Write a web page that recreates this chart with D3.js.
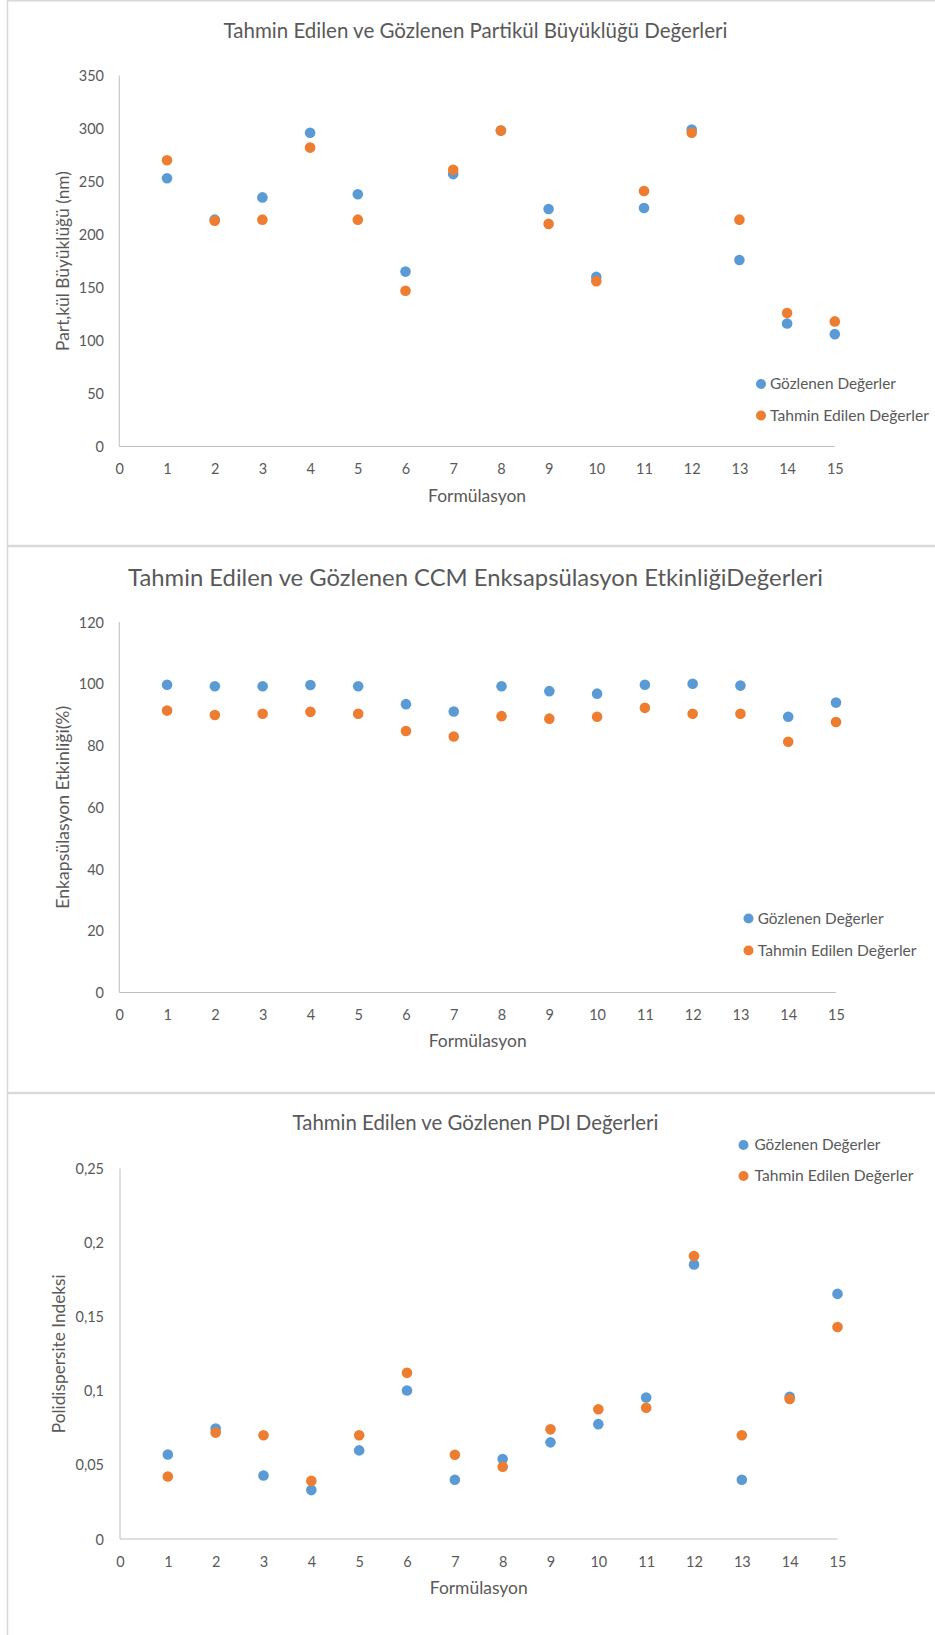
<!DOCTYPE html>
<html>
<head>
<meta charset="utf-8">
<script src="https://cdn.jsdelivr.net/npm/d3@7"></script>
<style>
  html, body { margin: 0; padding: 0; background: #fff; }
  svg { display: block; }
  text { font-family: Lato, "Open Sans", sans-serif; fill: #595959; }
</style>
</head>
<body>
<svg id="chart" width="935" height="1635"></svg>
<script>
// ---------------- DATA ----------------
const formulations = [1, 2, 3, 4, 5, 6, 7, 8, 9, 10, 11, 12, 13, 14, 15];
const xTicks = [0, 1, 2, 3, 4, 5, 6, 7, 8, 9, 10, 11, 12, 13, 14, 15];
const seriesNames = ["Gözlenen Değerler", "Tahmin Edilen Değerler"];

// Chart 1 – particle size (nm)
const title1 = "Tahmin Edilen ve Gözlenen Partikül Büyüklüğü Değerleri";
const yTitle1 = "Part,kül Büyüklüğü (nm)";
const yTicks1 = [0, 50, 100, 150, 200, 250, 300, 350];
const observed1 = [253, 214, 235, 296, 238, 165, 257, 298, 224, 160, 225, 299, 176, 116, 106];
const predicted1 = [270, 213, 214, 282, 214, 147, 261, 298, 210, 156, 241, 296, 214, 126, 118];

// Chart 2 – encapsulation efficiency (%)
const title2 = "Tahmin Edilen ve Gözlenen CCM Enksapsülasyon EtkinliğiDeğerleri";
const yTitle2 = "Enkapsülasyon Etkinliği(%)";
const yTicks2 = [0, 20, 40, 60, 80, 100, 120];
const observed2 = [99.7, 99.2, 99.2, 99.6, 99.2, 93.4, 91.0, 99.2, 97.6, 96.8, 99.7, 100.0, 99.4, 89.3, 93.9];
const predicted2 = [91.3, 89.9, 90.3, 90.9, 90.3, 84.7, 82.9, 89.5, 88.7, 89.3, 92.2, 90.3, 90.3, 81.2, 87.6];

// Chart 3 – PDI
const title3 = "Tahmin Edilen ve Gözlenen PDI Değerleri";
const yTitle3 = "Polidispersite Indeksi";
const yTicks3 = [0, 0.05, 0.1, 0.15, 0.2, 0.25];
const yTickLabels3 = ["0", "0,05", "0,1", "0,15", "0,2", "0,25"];
const observed3 = [0.057, 0.0745, 0.0428, 0.0330, 0.0598, 0.1002, 0.0400, 0.0540, 0.0652, 0.0775, 0.0955, 0.1853, 0.0400, 0.0960, 0.1654];
const predicted3 = [0.0422, 0.0718, 0.0700, 0.0392, 0.0700, 0.1121, 0.0568, 0.0488, 0.0740, 0.0876, 0.0886, 0.1910, 0.0700, 0.0945, 0.1431];

const xTitle = "Formülasyon";
const colors = ["#5B9BD5", "#ED7D31"];

// ---------------- LAYOUT ----------------
const svg = d3.select("#chart");

// panel frames
const frame = svg.append("g");
[[0.75, 545.5], [546.5, 1092.5], [1093.5, 1640]].forEach(([y0, y1]) => {
  frame.append("rect")
    .attr("x", 7.5).attr("y", y0)
    .attr("width", 1000).attr("height", y1 - y0)
    .attr("fill", "#fff")
    .attr("stroke", "#d9d9d9").attr("stroke-width", 1.5);
});

function fitText(sel, target) {
  const node = sel.node();
  const fs = parseFloat(sel.attr("font-size"));
  const w = node.getComputedTextLength();
  if (w > 0) sel.attr("font-size", fs * target / w);
}

const charts = [
  { title: title1, yTitle: yTitle1, yTicks: yTicks1, yLabels: yTicks1.map(String),
    yMax: 350, obs: observed1, pred: predicted1,
    x0: 119.3, x1: 834.8, yB: 446.5, yT: 75.5, titleY: 30.5, titleW: 504,
    xLabY: 468.5, xTitleY: 495.5, yTitleX: 63, yTitleW: 180,
    legX: 761, legY: [384, 415.5], legTX: 770 },
  { title: title2, yTitle: yTitle2, yTicks: yTicks2, yLabels: yTicks2.map(String),
    yMax: 120, obs: observed2, pred: predicted2,
    x0: 119.3, x1: 836, yB: 992.5, yT: 622, titleY: 577.5, titleW: 695,
    xLabY: 1014.5, xTitleY: 1040.5, yTitleX: 63, yTitleW: 203,
    legX: 748.5, legY: [918.5, 950.5], legTX: 757.7 },
  { title: title3, yTitle: yTitle3, yTicks: yTicks3, yLabels: yTickLabels3,
    yMax: 0.25, obs: observed3, pred: predicted3,
    x0: 120, x1: 837.5, yB: 1539, yT: 1168.5, titleY: 1122.5, titleW: 366,
    xLabY: 1561.5, xTitleY: 1588, yTitleX: 58.5, yTitleW: 159,
    legX: 743.5, legY: [1145, 1176], legTX: 754.5 }
];

charts.forEach(c => {
  const g = svg.append("g");
  const x = d3.scaleLinear().domain([0, 15]).range([c.x0, c.x1]);
  const y = d3.scaleLinear().domain([0, c.yMax]).range([c.yB, c.yT]);

  // axes
  const xAxis = g.append("g").attr("transform", `translate(0,${c.yB})`)
    .call(d3.axisBottom(x).tickValues(xTicks).tickSize(0).tickPadding(0).tickFormat(d3.format("d")));
  xAxis.select(".domain").attr("stroke", "#bfbfbf").attr("stroke-width", 1).attr("d", `M${c.x0},0H${c.x1}`);
  xAxis.selectAll(".tick text")
    .attr("y", c.xLabY - c.yB).attr("dy", "0.35em")
    .attr("font-size", 14.5).style("font-family", "Lato").attr("fill", "#595959");

  const yAxis = g.append("g").attr("transform", `translate(${c.x0},0)`)
    .call(d3.axisLeft(y).tickValues(c.yTicks).tickSize(0).tickPadding(0)
      .tickFormat((d, i) => c.yLabels[i]));
  yAxis.select(".domain").attr("stroke", "#bfbfbf").attr("stroke-width", 1).attr("d", `M0,${c.yB}V${c.yT}`);
  yAxis.selectAll(".tick text")
    .attr("x", 104 - c.x0).attr("dy", "0.35em")
    .attr("font-size", 14.5).style("font-family", "Lato").attr("fill", "#595959");

  // title
  const t = g.append("text").attr("x", 475.5).attr("y", c.titleY).attr("dy", "0.35em")
    .attr("text-anchor", "middle").attr("font-size", 20).text(c.title);
  fitText(t, c.titleW);

  // x title
  const xt = g.append("text").attr("x", (c.x0 + c.x1) / 2).attr("y", c.xTitleY).attr("dy", "0.35em")
    .attr("text-anchor", "middle").attr("font-size", 16).text(xTitle);
  fitText(xt, 98);

  // y title
  const yc = (c.yB + c.yT) / 2;
  const yt = g.append("text")
    .attr("transform", `translate(${c.yTitleX},${yc}) rotate(-90)`)
    .attr("dy", "0.35em").attr("text-anchor", "middle").attr("font-size", 16).text(c.yTitle);
  fitText(yt, c.yTitleW);

  // points
  [c.obs, c.pred].forEach((vals, si) => {
    g.append("g").selectAll("circle").data(vals).join("circle")
      .attr("cx", (d, i) => x(formulations[i]))
      .attr("cy", d => y(d))
      .attr("r", 5.3)
      .attr("fill", colors[si]);
  });

  // legend
  seriesNames.forEach((name, si) => {
    g.append("circle").attr("cx", c.legX).attr("cy", c.legY[si]).attr("r", 5).attr("fill", colors[si]);
    const lt = g.append("text").attr("x", c.legTX).attr("y", c.legY[si]).attr("dy", "0.35em")
      .attr("font-size", 15).text(name);
    if (si === 0) fitText(lt, 126); else fitText(lt, 159);
  });
});
</script>
</body>
</html>
